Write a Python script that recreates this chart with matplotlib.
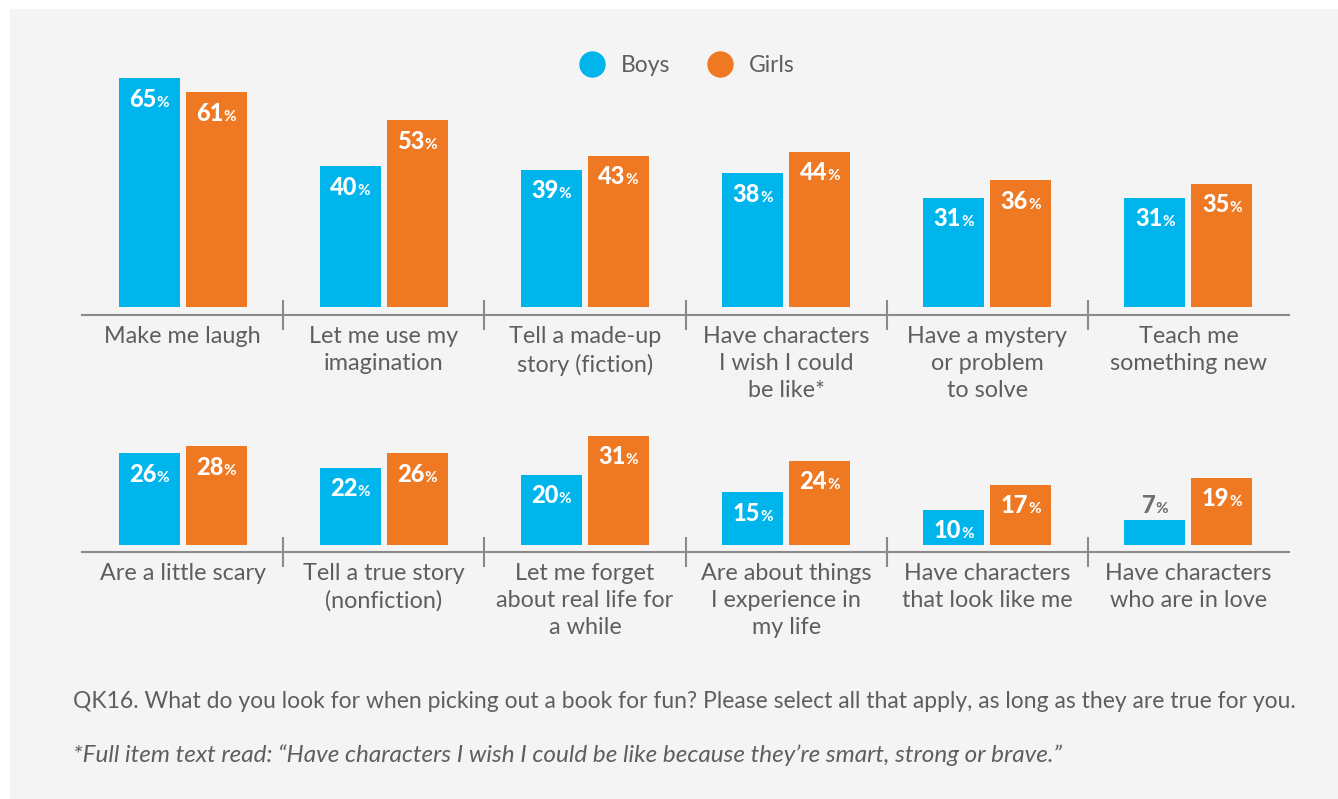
import matplotlib.pyplot as plt
from matplotlib.lines import Line2D
from matplotlib.patches import Rectangle
from matplotlib.offsetbox import TextArea, HPacker, AnnotationBbox

# data
labels_top = ["Make me laugh", "Let me use my\nimagination", "Tell a made-up\nstory (fiction)",
              "Have characters\nI wish I could\nbe like*", "Have a mystery\nor problem\nto solve",
              "Teach me\nsomething new"]
boys_top = [65, 40, 39, 38, 31, 31]
girls_top = [61, 53, 43, 44, 36, 35]

labels_bot = ["Are a little scary", "Tell a true story\n(nonfiction)", "Let me forget\nabout real life for\na while",
              "Are about things\nI experience in\nmy life", "Have characters\nthat look like me",
              "Have characters\nwho are in love"]
boys_bot = [26, 22, 20, 15, 10, 7]
girls_bot = [28, 26, 31, 24, 17, 19]

BLUE = '#00b5ec'
ORANGE = '#ef7823'
GRAY = '#5e5e5e'
LINE = '#8a8a8a'
FONT = 'Lato'

W, H = 1338, 799
PXU = 3.52  # pixels per percent

fig = plt.figure(figsize=(W / 100, H / 100), dpi=100)
fig.patch.set_facecolor('white')
fig.patches.append(Rectangle((10 / W, 0), 1, 1 - 9 / H, transform=fig.transFigure,
                             facecolor='#f4f4f4', edgecolor='none', zorder=-10))


def make_row(top_px, base_px, gap_px, labels, boys, girls):
    ax = fig.add_axes([82 / W, 1 - base_px / H, (1289 - 82) / W, (base_px - top_px) / H])
    ax.set_facecolor('none')
    lo = -gap_px / PXU
    ax.set_ylim(lo, lo + (base_px - top_px) / PXU)
    ax.set_xlim(-0.5, len(labels) - 0.5)
    w = 0.303
    off = w / 2 + 0.015
    xs = list(range(len(labels)))
    ax.bar([x - off for x in xs], boys, width=w, color=BLUE)
    ax.bar([x + off for x in xs], girls, width=w, color=ORANGE)

    for x, vals in ((-off, boys), (off, girls)):
        for i, v in enumerate(vals):
            inside = v >= 9
            col = 'white' if inside else '#6d6e71'
            num = TextArea(str(v), textprops=dict(fontsize=17, fontweight='black', color=col, family=FONT))
            pct = TextArea('%', textprops=dict(fontsize=11, fontweight='bold', color=col, family=FONT))
            box = HPacker(children=[num, pct], align='baseline', pad=0, sep=0)
            dy = -15 if inside else 11
            ab = AnnotationBbox(box, (i + x, v), xybox=(0, dy), boxcoords='offset points',
                                frameon=False, box_alignment=(0.5, 0.5))
            ax.add_artist(ab)

    for s in ['top', 'left', 'right']:
        ax.spines[s].set_visible(False)
    ax.spines['bottom'].set_color(LINE)
    ax.spines['bottom'].set_linewidth(1.5)
    ax.set_yticks([])
    ax.set_xticks(xs)
    ax.set_xticklabels(labels, fontsize=16.8, color=GRAY, family=FONT, linespacing=1.36)
    ax.tick_params(axis='x', which='major', length=0, pad=8)
    ax.set_xticks([x + 0.5 for x in xs[:-1]], minor=True)
    ax.tick_params(axis='x', which='minor', length=21.6, width=1.5, color=LINE, direction='inout')
    return ax


ax1 = make_row(60, 315, 8, labels_top, boys_top, girls_top)
ax2 = make_row(410, 552, 7, labels_bot, boys_bot, girls_bot)

handles = [Line2D([], [], marker='o', linestyle='none', markersize=18, color=BLUE),
           Line2D([], [], marker='o', linestyle='none', markersize=18, color=ORANGE)]
fig.legend(handles, ['Boys', 'Girls'], loc='center', bbox_to_anchor=(682 / W, 1 - 66 / H), ncol=2,
           frameon=False, prop={'family': FONT, 'size': 16.5}, labelcolor=GRAY,
           handletextpad=0.25, columnspacing=1.2)

fig.text(73 / W, 1 - 702 / H,
         "QK16. What do you look for when picking out a book for fun? Please select all that apply, as long as they are true for you.",
         fontsize=16.5, color=GRAY, family=FONT, va='center')
fig.text(73 / W, 1 - 755 / H,
         "*Full item text read: \u201cHave characters I wish I could be like because they\u2019re smart, strong or brave.\u201d",
         fontsize=17.5, color=GRAY, family=FONT, style='italic', va='center')

fig.savefig('out.png', dpi=100)
